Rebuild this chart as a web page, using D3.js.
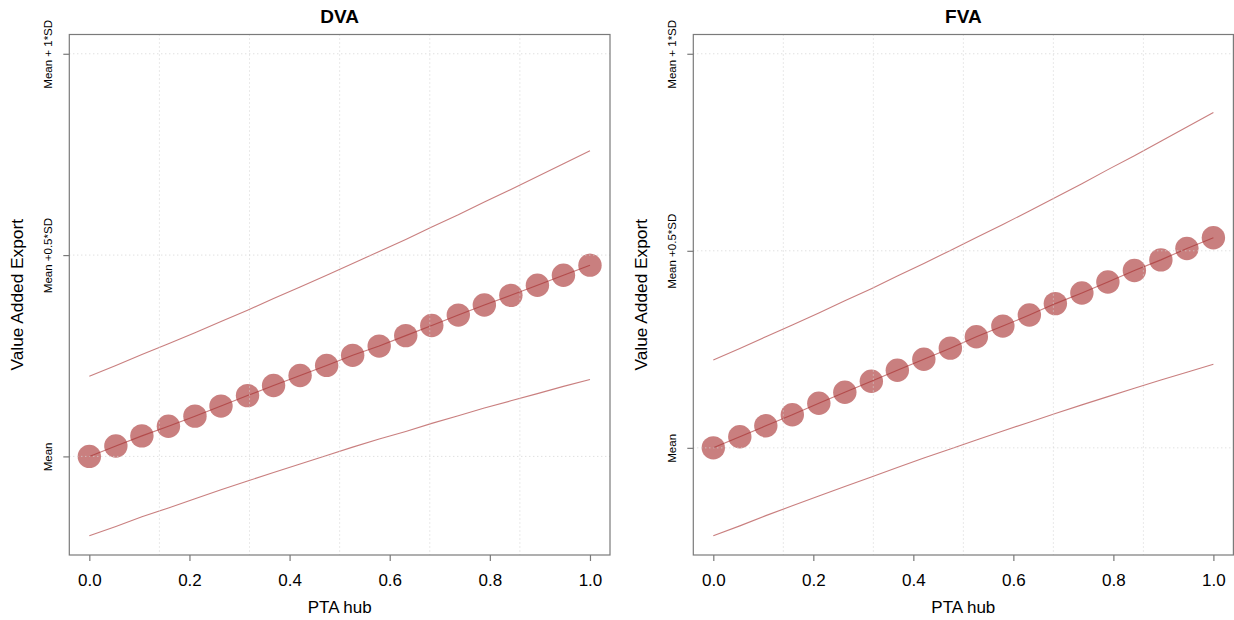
<!DOCTYPE html>
<html>
<head>
<meta charset="utf-8">
<script src="https://cdn.jsdelivr.net/npm/d3@7"></script>
<style>
  html, body { margin: 0; padding: 0; background: #ffffff; }
  svg { display: block; font-family: "Liberation Sans", Arial, Helvetica, sans-serif; }
</style>
</head>
<body>
<svg id="chart" width="1234" height="620"></svg>
<script>
// ---- data (values in SD units relative to the mean) ----
const panelTitles = ["DVA", "FVA"];
const ptaHub = [0.000, 0.053, 0.105, 0.158, 0.211, 0.263, 0.316, 0.368, 0.421, 0.474,
                0.526, 0.579, 0.632, 0.684, 0.737, 0.789, 0.842, 0.895, 0.947, 1.000];

const dvaMean  = [0.000, 0.026, 0.051, 0.075, 0.100, 0.125, 0.151, 0.176, 0.201, 0.226,
                  0.251, 0.274, 0.300, 0.325, 0.351, 0.376, 0.400, 0.425, 0.450, 0.475];
const dvaUpper = [0.199, 0.226, 0.253, 0.280, 0.307, 0.335, 0.363, 0.392, 0.421, 0.450,
                  0.479, 0.509, 0.539, 0.570, 0.600, 0.632, 0.663, 0.695, 0.727, 0.759];
const dvaLower = [-0.197, -0.174, -0.150, -0.128, -0.105, -0.083, -0.061, -0.040, -0.019, 0.002,
                  0.023, 0.043, 0.062, 0.082, 0.101, 0.120, 0.138, 0.156, 0.174, 0.191];

const fvaMean  = [0.000, 0.028, 0.056, 0.084, 0.113, 0.141, 0.169, 0.197, 0.225, 0.253,
                  0.282, 0.309, 0.337, 0.366, 0.393, 0.421, 0.450, 0.477, 0.506, 0.533];
const fvaUpper = [0.223, 0.252, 0.282, 0.312, 0.342, 0.373, 0.404, 0.436, 0.468, 0.501,
                  0.534, 0.567, 0.601, 0.635, 0.670, 0.706, 0.741, 0.778, 0.814, 0.851];
const fvaLower = [-0.223, -0.198, -0.172, -0.147, -0.122, -0.098, -0.074, -0.050, -0.026, -0.003,
                  0.020, 0.043, 0.065, 0.087, 0.109, 0.130, 0.151, 0.172, 0.192, 0.212];

const xTickValues = [0, 0.2, 0.4, 0.6, 0.8, 1.0];
const xGridValues = [0.14, 0.32, 0.5, 0.68, 0.86];
const yTickValues = [0, 0.5, 1];
const yTickLabels = ["Mean", "Mean +0.5*SD", "Mean + 1*SD"];
const xLabel = "PTA hub";
const yLabel = "Value Added Export";

// ---- drawing ----
const svg = d3.select("#chart");
const markColor = "rgba(165,42,42,0.6)";
const panels = [
  { title: panelTitles[0], mean: dvaMean, upper: dvaUpper, lower: dvaLower, left: 69.3, right: 610 },
  { title: panelTitles[1], mean: fvaMean, upper: fvaUpper, lower: fvaLower, left: 693.3, right: 1233.4 }
];
const plotTop = 34.5, plotBottom = 555;

panels.forEach(p => {
  const g = svg.append("g");
  const x = d3.scaleLinear().domain([-0.04, 1.04]).range([p.left, p.right]);
  const ymin = d3.min(p.lower), ymax = 1;
  const pad = (ymax - ymin) * 0.04;
  const y = d3.scaleLinear().domain([ymin - pad, ymax + pad]).range([plotBottom, plotTop]);

  const pts = ptaHub.map((v, i) => ({ x: v, m: p.mean[i], u: p.upper[i], l: p.lower[i] }));
  const line = key => d3.line().x(d => x(d.x)).y(d => y(d[key]));

  // bands
  g.append("path").datum(pts).attr("d", line("u"))
    .attr("fill", "none").attr("stroke", markColor).attr("stroke-width", 1.1);
  g.append("path").datum(pts).attr("d", line("l"))
    .attr("fill", "none").attr("stroke", markColor).attr("stroke-width", 1.1);

  // points
  g.selectAll("circle").data(pts).join("circle")
    .attr("cx", d => x(d.x)).attr("cy", d => y(d.m)).attr("r", 11.7)
    .attr("fill", markColor);

  // mean line
  g.append("path").datum(pts).attr("d", line("m"))
    .attr("fill", "none").attr("stroke", markColor).attr("stroke-width", 1.1);

  // grid (drawn over points)
  g.selectAll("line.vg").data(xGridValues).join("line").attr("class", "vg")
    .attr("x1", d => x(d)).attr("x2", d => x(d)).attr("y1", plotTop).attr("y2", plotBottom)
    .attr("stroke", "#d3d3d3").attr("stroke-dasharray", "1,3");
  g.selectAll("line.hg").data(yTickValues).join("line").attr("class", "hg")
    .attr("x1", p.left).attr("x2", p.right).attr("y1", d => y(d)).attr("y2", d => y(d))
    .attr("stroke", "#d3d3d3").attr("stroke-dasharray", "1,3");

  // box
  g.append("rect").attr("x", p.left).attr("y", plotTop)
    .attr("width", p.right - p.left).attr("height", plotBottom - plotTop)
    .attr("fill", "none").attr("stroke", "#7a7a7a").attr("stroke-width", 1.2);

  // x axis
  const xa = g.append("g").attr("transform", `translate(0,${plotBottom})`)
    .call(d3.axisBottom(x).tickValues(xTickValues).tickSize(6).tickPadding(13)
      .tickFormat(d3.format(".1f")));
  xa.select(".domain").remove();
  xa.selectAll(".tick line").attr("stroke", "#7a7a7a").attr("stroke-width", 1.2);
  xa.selectAll(".tick text").attr("fill", "#000").style("font-size", "17px")
    .style("font-family", "'Liberation Sans', Arial, sans-serif");

  // y axis
  const ya = g.append("g").attr("transform", `translate(${p.left},0)`)
    .call(d3.axisLeft(y).tickValues(yTickValues).tickSize(6)
      .tickFormat((d, i) => yTickLabels[i]));
  ya.select(".domain").remove();
  ya.selectAll(".tick line").attr("stroke", "#7a7a7a").attr("stroke-width", 1.2);
  ya.selectAll(".tick text")
    .attr("transform", "rotate(-90)")
    .attr("x", 0).attr("y", -17.5).attr("dy", 0)
    .attr("text-anchor", "middle")
    .attr("fill", "#000").style("font-size", "11.5px")
    .style("font-family", "'Liberation Sans', Arial, sans-serif");

  // titles
  const cx = (p.left + p.right) / 2;
  const cy = (plotTop + plotBottom) / 2;
  g.append("text").attr("x", cx).attr("y", 22.5).attr("text-anchor", "middle")
    .style("font-size", "19px").style("font-weight", "bold").text(p.title);
  g.append("text").attr("x", cx).attr("y", 613).attr("text-anchor", "middle")
    .style("font-size", "17px").text(xLabel);
  g.append("text").attr("transform", `translate(${p.left - 46.5},${cy}) rotate(-90)`)
    .attr("text-anchor", "middle").style("font-size", "17.3px").text(yLabel);
});
</script>
</body>
</html>
